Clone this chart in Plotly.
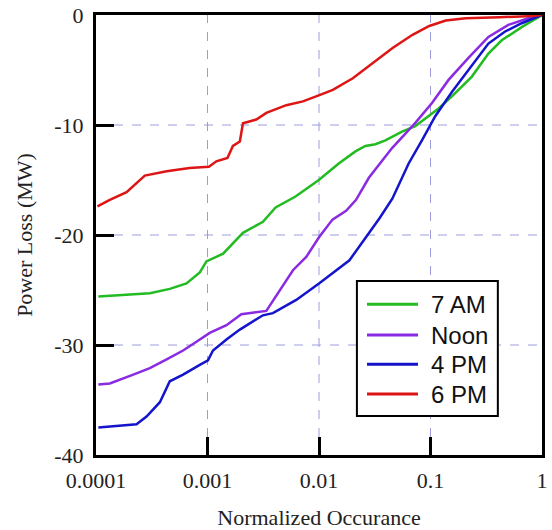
import math
import plotly.graph_objects as go

series_names = ["7 AM", "Noon", "4 PM", "6 PM"]
series_colors = ["#22bb22", "#8a2be2", "#1414cc", "#dd1515"]

am7_x = [1.05e-4, 3.04e-4, 4.59e-4, 6.48e-4, 8.53e-4, 9.06e-4, 9.78e-4, 1.38e-3, 2.08e-3,
         3.14e-3, 4.08e-3, 6.16e-3, 9.96e-3, 0.01503, 0.02122, 0.02608, 0.03206, 0.03939,
         0.05551, 0.0731, 0.1181, 0.1555, 0.2349, 0.3306, 0.4355, 0.6577, 1.0]
am7_y = [-25.6, -25.3, -24.9, -24.4, -23.4, -23.0, -22.4, -21.7, -19.8,
         -18.8, -17.5, -16.5, -15.0, -13.5, -12.4, -11.9, -11.75, -11.4,
         -10.6, -10.1, -8.5, -7.4, -5.6, -3.5, -2.3, -1.1, 0.0]

noon_x = [1.05e-4, 1.33e-4, 2.16e-4, 3.04e-4, 4.30e-4, 6.04e-4, 7.96e-4, 1.047e-3, 1.48e-3,
          2.01e-3, 3.37e-3, 4.08e-3, 4.44e-3, 5.84e-3, 7.68e-3, 0.0100, 0.0132, 0.0175,
          0.0215, 0.0280, 0.0452, 0.0731, 0.1031, 0.1452, 0.2190, 0.3306, 0.4989, 0.7532, 1.0]
noon_y = [-33.6, -33.5, -32.7, -32.1, -31.3, -30.5, -29.7, -28.9, -28.2,
          -27.2, -26.9, -25.6, -25.0, -23.2, -22.0, -20.2, -18.6, -17.8,
          -16.8, -14.8, -12.1, -9.8, -8.0, -5.9, -3.9, -2.0, -0.9, -0.3, 0.0]

pm4_x = [1.05e-4, 1.33e-4, 2.31e-4, 2.84e-4, 3.74e-4, 4.59e-4, 6.04e-4, 8.53e-4, 1.01e-3,
         1.12e-3, 1.48e-3, 1.95e-3, 3.14e-3, 3.86e-3, 5.45e-3, 6.25e-3, 0.0100, 0.01875,
         0.02636, 0.03477, 0.04545, 0.06368, 0.0838, 0.1103, 0.1555, 0.2190, 0.3306,
         0.4667, 0.6577, 1.0]
pm4_y = [-37.5, -37.4, -37.2, -36.5, -35.2, -33.3, -32.7, -31.8, -31.4,
         -30.5, -29.5, -28.6, -27.3, -27.1, -26.2, -25.9, -24.4, -22.3,
         -20.2, -18.5, -16.7, -13.5, -11.4, -9.2, -7.0, -5.0, -2.6,
         -1.5, -0.75, 0.0]

pm6_x = [1.03e-4, 1.33e-4, 1.88e-4, 2.74e-4, 4.3e-4, 6.9e-4, 1.03e-3, 1.2e-3, 1.51e-3,
         1.69e-3, 1.95e-3, 2.08e-3, 2.74e-3, 3.37e-3, 5.09e-3, 7.17e-3, 9.96e-3, 0.0133,
         0.0201, 0.0303, 0.0457, 0.069, 0.0975, 0.137, 0.207, 0.412, 0.815, 1.0]
pm6_y = [-17.4, -16.8, -16.1, -14.6, -14.2, -13.9, -13.8, -13.3, -13.0,
         -11.9, -11.5, -9.85, -9.5, -8.9, -8.2, -7.85, -7.3, -6.8,
         -5.75, -4.4, -3.0, -1.8, -1.0, -0.5, -0.3, -0.2, -0.1, 0.0]

x_tickvals = [1e-4, 1e-3, 1e-2, 1e-1, 1]
x_ticktext = ["0.0001", "0.001", "0.01", "0.1", "1"]
y_tickvals = [0, -10, -20, -30, -40]
y_ticktext = ["0", "-10", "-20", "-30", "-40"]

xs = [am7_x, noon_x, pm4_x, pm6_x]
ys = [am7_y, noon_y, pm4_y, pm6_y]

X_LOG_RANGE = [-4, 0]
Y_RANGE = [-40, 0]

fig = go.Figure()
for name, color, x, y in zip(series_names, series_colors, xs, ys):
    fig.add_trace(go.Scatter(x=x, y=y, mode="lines", name=name, showlegend=False,
                             line=dict(color=color, width=2.5)))

tick_style = dict(ticks="inside", ticklen=18, tickwidth=3, tickcolor="black")
font_style = dict(family="Liberation Serif", size=22, color="#222")

fig.update_layout(
    xaxis=dict(type="log", range=X_LOG_RANGE, tickmode="array",
               tickvals=x_tickvals, ticktext=x_ticktext, ticklabelstandoff=4,
               showline=True, linecolor="black", linewidth=3, mirror=True,
               showgrid=False, zeroline=False, automargin=False, tickfont=font_style,
               title=dict(text="Normalized Occurance", standoff=19, font=font_style),
               **tick_style),
    yaxis=dict(range=Y_RANGE, tickmode="array",
               tickvals=y_tickvals, ticktext=y_ticktext, ticklabelstandoff=5,
               showline=True, linecolor="black", linewidth=3, mirror=True,
               showgrid=False, zeroline=False, automargin=False, tickfont=font_style,
               title=dict(text="Power Loss (MW)", standoff=16, font=font_style),
               **tick_style),
)

# dashed grid lines at the interior tick positions (fractions of the plot area)
grid_line = dict(color="#9c9cdc", width=1, dash="dash")
for v in x_tickvals[1:-1]:
    fx = (math.log10(v) - X_LOG_RANGE[0]) / (X_LOG_RANGE[1] - X_LOG_RANGE[0])
    fig.add_shape(type="line", xref="paper", yref="paper", x0=fx, x1=fx, y0=0, y1=1,
                  line=grid_line, layer="below")
for v in y_tickvals[1:-1]:
    fy = (v - Y_RANGE[0]) / (Y_RANGE[1] - Y_RANGE[0])
    fig.add_shape(type="line", xref="paper", yref="paper", x0=0, x1=1, y0=fy, y1=fy,
                  line=grid_line, layer="below")

# legend box drawn in paper coordinates
leg_x0, leg_x1, leg_y0, leg_y1 = 0.585, 0.901, 0.0886, 0.3955
row_y = [0.3425, 0.2727, 0.2061, 0.1386]
fig.add_shape(type="rect", xref="paper", yref="paper", x0=leg_x0, x1=leg_x1,
              y0=leg_y0, y1=leg_y1, line=dict(color="black", width=2),
              fillcolor="white", layer="above")
for name, color, ry in zip(series_names, series_colors, row_y):
    fig.add_shape(type="line", xref="paper", yref="paper", x0=0.6076, x1=0.722,
                  y0=ry, y1=ry, line=dict(color=color, width=3), layer="above")
    fig.add_annotation(xref="paper", yref="paper", x=0.7466, y=ry, text=name,
                       showarrow=False, xanchor="left", yanchor="middle",
                       font=dict(family="Liberation Sans", size=24, color="#111"))

fig.update_layout(
    width=552, height=530, autosize=False,
    margin=dict(l=96, r=10, t=15, b=75),
    plot_bgcolor="white", paper_bgcolor="white",
    showlegend=False,
)

fig.write_html("out.html", config={"displayModeBar": False},
               post_script="document.body.style.margin='0';")
